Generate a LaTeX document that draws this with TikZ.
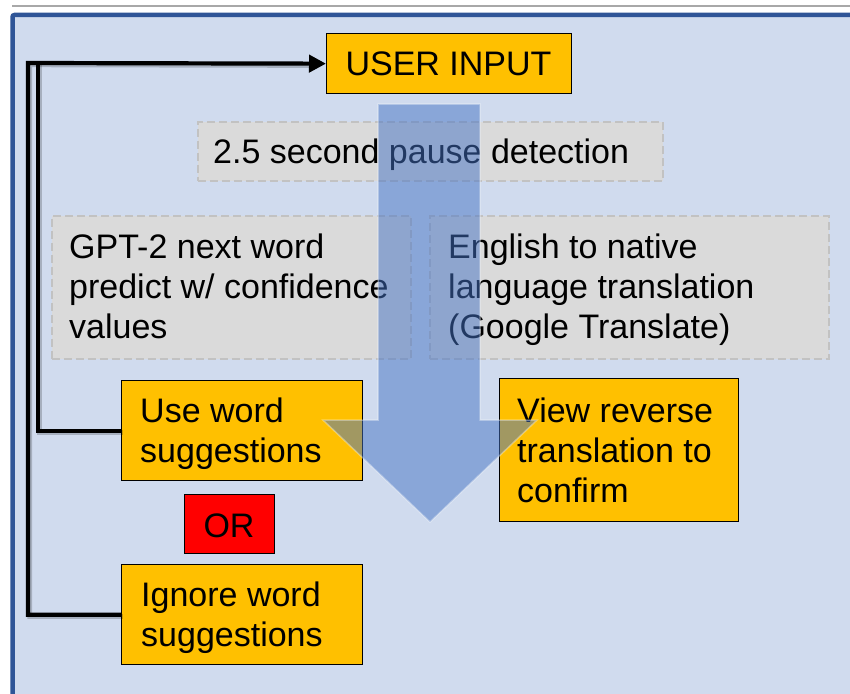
\documentclass[tikz,border=0pt]{standalone}
\usepackage{fontspec}
\setmainfont{Liberation Sans}
\usetikzlibrary{arrows.meta}

\definecolor{panelbg}{HTML}{D0DBEE}
\definecolor{panelrule}{HTML}{2F5597}
\definecolor{topline}{HTML}{A8A8A8}
\definecolor{boxorange}{HTML}{FFC000}
\definecolor{boxred}{HTML}{FF0000}
\definecolor{stepgray}{HTML}{DADADA}
\definecolor{stepdash}{HTML}{C2C2C2}
\definecolor{flowblue}{HTML}{4472C4}

\tikzset{
  obox/.style={draw=black, line width=1.3pt, fill=boxorange, inner sep=0pt,
    anchor=north west},
  redbox/.style={obox, fill=boxred},
  graybox/.style={draw=stepdash, line width=1.8pt, dash pattern=on 8pt off 4pt,
    fill=stepgray, inner sep=0pt, anchor=north west},
  txt/.style={inner sep=0pt, align=left, text=black,
    font=\fontsize{34}{40}\selectfont},
  conn/.style={draw=black, line width=4.2pt, line join=miter},
  connshadow/.style={draw=black, opacity=0.2, line width=4.8pt, line join=miter,
    transform canvas={shift={(1.8pt,-1.8pt)}}},
  bigarrow/.style={fill=flowblue, fill opacity=0.5, draw=white, draw opacity=0.35,
    line width=1.5pt, line join=miter}
}

\begin{document}
\begin{tikzpicture}[x=1pt, y=-1pt]
  % page and panel
  \useasboundingbox (0,0) rectangle (850,693);
  \fill[white] (0,0) rectangle (850,693);
  \draw[topline, line width=2pt] (12,6) -- (850,6);
  \fill[panelbg] (12.5,15) rectangle (860,703);
  \draw[panelrule, line width=4.5pt, rounded corners=2pt]
    (860,15) -- (12.5,15) -- (12.5,703);

  % boxes
  \node[obox, minimum width=245pt, minimum height=60pt] (user) at (326,33) {};
  \node[graybox, minimum width=465pt, minimum height=59pt] (pause) at (197,121) {};
  \node[graybox, minimum width=359pt, minimum height=143pt] (gpt) at (51,215) {};
  \node[graybox, minimum width=399pt, minimum height=143pt] (trans) at (429,215) {};
  \node[obox, minimum width=241pt, minimum height=100pt] (use) at (121,380) {};
  \node[obox, minimum width=239pt, minimum height=143pt] (view) at (499,378) {};
  \node[redbox, minimum width=90pt, minimum height=59pt] (orbox) at (184,494) {};
  \node[obox, minimum width=241pt, minimum height=100pt] (ign) at (121,564) {};

  % loop-back connectors
  \coordinate (outerturn) at (28,63);
  \coordinate (innerturn) at (38,63);
  \draw[connshadow] (ign.west) -| (outerturn) -- ([xshift=-17pt]user.west);
  \draw[connshadow] (use.west) -| (innerturn);
  \draw[conn] (use.west) -| (innerturn);
  \draw[conn, -{Triangle[length=17pt, width=17pt]}] (ign.west) -| (outerturn) -- (user.west);

  % labels
  \node[txt, anchor=base] (userT) at (448.5,75) {USER INPUT};
  \node[txt, anchor=base west] (pauseT) at (213,163) {2.5 second pause detection};
  \node[txt, anchor=north west] (gptT) at (69,230)
    {\strut GPT-2 next word\\predict w/ confidence\\values};
  \node[txt, anchor=north west] (transT) at (448,230)
    {\strut English to native\\language translation\\(Google Translate)};
  \node[txt, anchor=north west] (useT) at (140,394)
    {\strut Use word\\suggestions};
  \node[txt, anchor=north west] (viewT) at (517,394)
    {\strut View reverse\\translation to\\confirm};
  \node[txt, anchor=base] (orT) at (229,537) {OR};
  \node[txt, anchor=north west] (ignT) at (141,578)
    {\strut Ignore word\\suggestions};

  % translucent downward flow arrow
  \path[bigarrow] (378,104) -- (480,104) -- (480,420) -- (537,420)
    -- (430,522) -- (323,420) -- (378,420) -- cycle;
\end{tikzpicture}
\end{document}
